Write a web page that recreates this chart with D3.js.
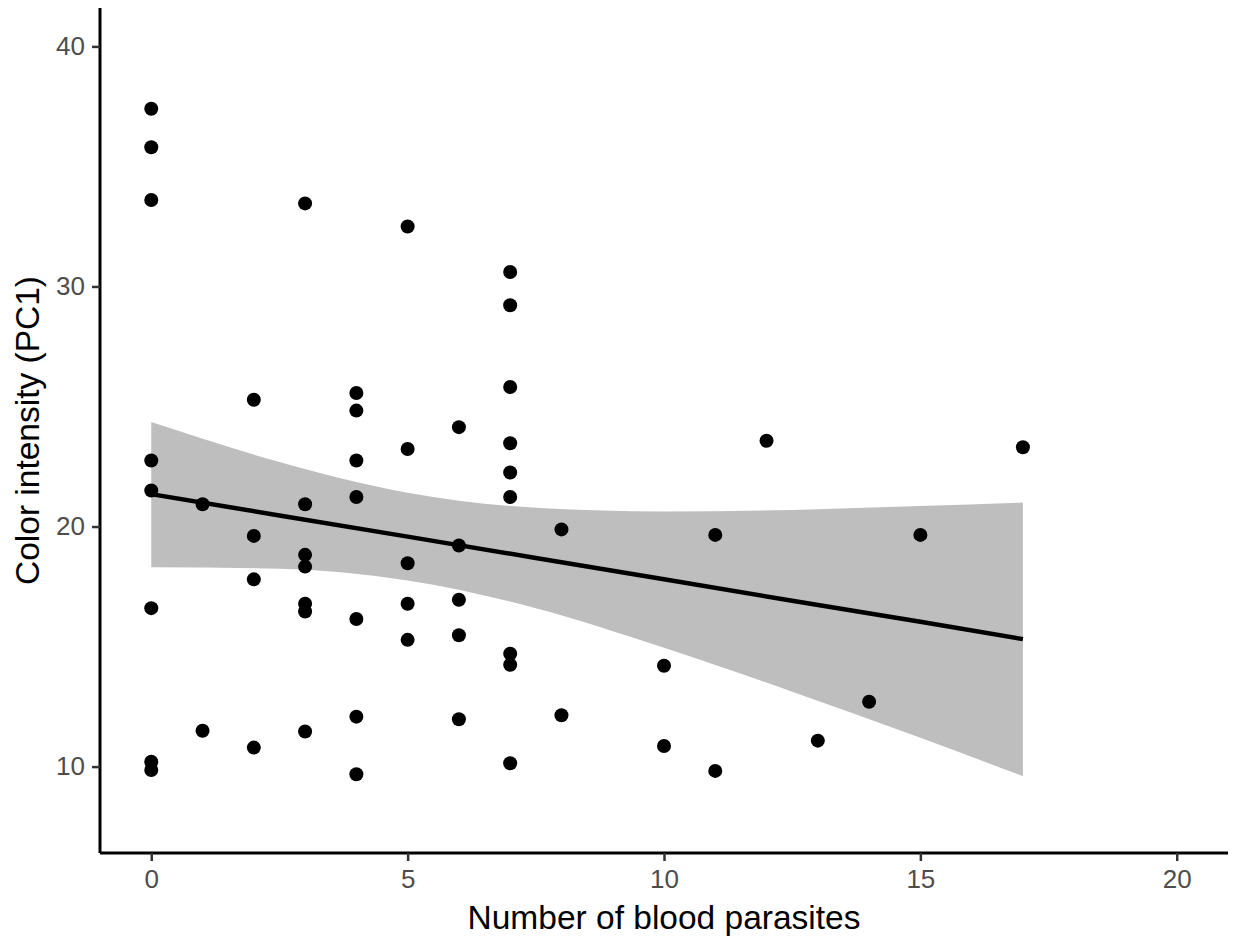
<!DOCTYPE html>
<html>
<head>
<meta charset="utf-8">
<script src="https://cdn.jsdelivr.net/npm/d3@7"></script>
<style>
  body { margin: 0; background: #fff; }
  svg { display: block; }
</style>
</head>
<body>
<svg></svg>
<script>
const width = 1236
const height = 941

// number of blood parasites per bird
const parasites = [
    0, 0, 0, 0, 0, 0, 0, 0,
    1, 1,
    2, 2, 2, 2,
    3, 3, 3, 3, 3, 3, 3,
    4, 4, 4, 4, 4, 4, 4,
    5, 5, 5, 5, 5,
    6, 6, 6, 6, 6,
    7, 7, 7, 7, 7, 7, 7, 7, 7,
    8, 8,
    10, 10,
    11, 11,
    12, 13, 14, 15, 17
]
// color intensity (PC1), same order
const intensity = [
    37.4, 35.8, 33.6, 22.75, 21.5, 16.6, 10.2, 9.86,
    20.93, 11.49,
    25.28, 19.61, 17.8, 10.79,
    33.46, 20.93, 18.82, 18.33, 16.78, 16.46, 11.46,
    25.56, 24.83, 22.75, 21.23, 16.15, 12.08, 9.68,
    32.5, 23.23, 18.47, 16.78, 15.28,
    24.14, 19.21, 16.95, 15.47, 11.97,
    30.6, 29.22, 25.81, 23.47, 22.25, 21.23, 14.7, 14.24, 10.14,
    19.88, 12.14,
    14.2, 10.86,
    19.65, 9.82,
    23.57, 11.08, 12.7, 19.65, 23.3
]

// linear fit and its 95% band
const fitX     = [0,     2.5,   5,     7.5,   10,    12.5,  15,    17]
const fitY     = [21.35, 20.46, 19.58, 18.69, 17.80, 16.91, 16.03, 15.31]
const bandLow  = [18.3,  18.24, 17.75, 16.6,  14.95, 13.12, 11.2,  9.6]
const bandHigh = [24.35, 22.69, 21.41, 20.78, 20.63, 20.69, 20.85, 21.0]

const xTicks = [0, 5, 10, 15, 20]
const yTicks = [10, 20, 30, 40]

const xLabel = "Number of blood parasites"
const yLabel = "Color intensity (PC1)"

const points = parasites.map((d, i) => ({ x: d, y: intensity[i] }))
const fit = fitX.map((d, i) => ({ x: d, y: fitY[i], lo: bandLow[i], hi: bandHigh[i] }))

// panel edges
const margin = { top: 8, right: 8, bottom: 88, left: 100 }

const x = d3.scaleLinear()
    .domain([-1, 21]) // limits 0..20 with 5% expansion
    .range([margin.left, width - margin.right])
const y = d3.scaleLinear()
    .domain([6.4, 41.6]) // limits 8..40 with 5% expansion
    .range([height - margin.bottom, margin.top])

const svg = d3.select("svg")
    .attr("width", width)
    .attr("height", height)
    .style("font-family", "'Liberation Sans', Arial, sans-serif")

// confidence band
svg.append("path")
    .datum(fit)
    .attr("fill", "#bebebe")
    .attr("d", d3.area()
        .curve(d3.curveMonotoneX)
        .x(d => x(d.x))
        .y0(d => y(d.lo))
        .y1(d => y(d.hi)))

// points
svg.append("g")
    .selectAll("circle")
    .data(points)
    .join("circle")
    .attr("cx", d => x(d.x))
    .attr("cy", d => y(d.y))
    .attr("r", 7)
    .attr("fill", "#000")

// fitted line
svg.append("path")
    .datum(fit)
    .attr("fill", "none")
    .attr("stroke", "#000")
    .attr("stroke-width", 4.5)
    .attr("d", d3.line().x(d => x(d.x)).y(d => y(d.y)))

// axes
const xAxis = svg.append("g")
    .attr("transform", `translate(0,${height - margin.bottom})`)
    .call(d3.axisBottom(x).tickValues(xTicks).tickSize(8).tickPadding(9).tickSizeOuter(0))
const yAxis = svg.append("g")
    .attr("transform", `translate(${margin.left},0)`)
    .call(d3.axisLeft(y).tickValues(yTicks).tickSize(8).tickPadding(7).tickSizeOuter(0))

for (const g of [xAxis, yAxis]) {
    g.select(".domain").attr("stroke", "#000").attr("stroke-width", 3)
    g.selectAll(".tick line").attr("stroke", "#333").attr("stroke-width", 2.5)
    g.selectAll(".tick text")
        .attr("fill", "#4d4d4d")
        .style("font-size", "26px")
        .style("font-family", "'Liberation Sans', Arial, sans-serif")
}
// stretch the panel lines to the full panel
xAxis.select(".domain").attr("d", `M${margin.left},0H${width - margin.right}`)
yAxis.select(".domain").attr("d", `M0,${margin.top}V${height - margin.bottom}`)

// axis titles
svg.append("text")
    .attr("x", (margin.left + width - margin.right) / 2)
    .attr("y", 929)
    .attr("text-anchor", "middle")
    .style("font-size", "33.5px")
    .attr("fill", "#000")
    .text(xLabel)

svg.append("text")
    .attr("transform", `translate(39,${(margin.top + height - margin.bottom) / 2}) rotate(-90)`)
    .attr("text-anchor", "middle")
    .style("font-size", "33.5px")
    .attr("fill", "#000")
    .text(yLabel)
</script>
</body>
</html>
